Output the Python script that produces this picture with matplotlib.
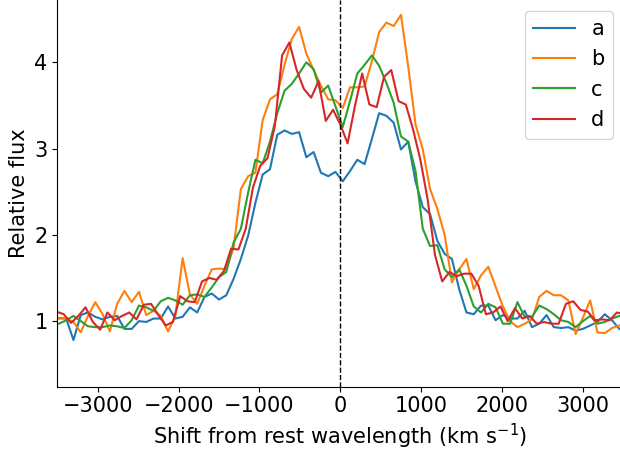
import numpy as np
import matplotlib
matplotlib.use("Agg")
import matplotlib.pyplot as plt

# velocity grids (km/s): a, b, c share one pixel grid, d is offset by 30 km/s
vel_abc = np.arange(-3570, 3541, 90)
vel_d = np.arange(-3600, 3511, 90)

flux_a = [1.05, 1.035, 1.03, 0.78, 1.07, 1.10, 1.05, 1.02, 1.05, 1.06,
          0.91, 0.91, 1.00, 0.99, 1.03, 1.03, 1.17, 1.03, 1.05, 1.16,
          1.10, 1.28, 1.32, 1.25, 1.30, 1.49, 1.72, 1.99, 2.37, 2.70,
          2.76, 3.16, 3.21, 3.17, 3.19, 2.90, 2.96, 2.72, 2.68, 2.73,
          2.62, 2.74, 2.87, 2.82, 3.11, 3.41, 3.38, 3.30, 2.99, 3.08,
          2.62, 2.32, 2.24, 1.93, 1.78, 1.72, 1.37, 1.10, 1.08, 1.18,
          1.18, 1.01, 1.07, 1.03, 1.03, 1.12, 0.93, 0.97, 1.07, 0.93,
          0.92, 0.93, 0.89, 0.91, 0.95, 0.99, 1.08, 1.01, 0.91, 0.87]

flux_b = [1.03, 1.03, 1.03, 0.99, 0.87, 1.06, 1.22, 1.08, 0.88, 1.20,
          1.35, 1.22, 1.34, 1.07, 1.12, 1.06, 0.88, 1.06, 1.73, 1.31,
          1.20, 1.41, 1.60, 1.61, 1.60, 1.85, 2.53, 2.68, 2.72, 3.33,
          3.57, 3.63, 3.97, 4.27, 4.41, 4.10, 3.91, 3.73, 3.57, 3.56,
          3.47, 3.71, 3.71, 3.72, 4.01, 4.35, 4.46, 4.42, 4.55, 3.95,
          3.28, 2.99, 2.53, 2.30, 2.00, 1.45, 1.60, 1.72, 1.37, 1.53,
          1.63, 1.40, 1.17, 1.00, 0.93, 0.97, 1.02, 1.28, 1.35, 1.30,
          1.30, 1.24, 0.85, 1.04, 1.24, 0.87, 0.86, 0.92, 0.95, 0.96]

flux_c = [0.96, 0.97, 1.01, 1.06, 1.00, 0.94, 0.93, 0.93, 0.95, 0.94,
          0.92, 1.01, 1.18, 1.16, 1.12, 1.23, 1.27, 1.24, 1.19, 1.30,
          1.31, 1.28, 1.39, 1.51, 1.57, 1.91, 2.07, 2.49, 2.87, 2.83,
          3.08, 3.41, 3.67, 3.75, 3.87, 4.00, 3.92, 3.65, 3.73, 3.49,
          3.25, 3.55, 3.87, 3.97, 4.08, 3.96, 3.76, 3.53, 3.14, 3.08,
          2.74, 2.07, 1.87, 1.88, 1.60, 1.51, 1.60, 1.41, 1.17, 1.10,
          1.20, 1.16, 0.97, 0.97, 1.22, 1.05, 1.05, 1.18, 1.14, 1.08,
          1.01, 0.99, 0.93, 1.00, 1.06, 0.97, 0.99, 1.03, 1.06, 1.07]

flux_d = [1.10, 1.11, 1.08, 0.98, 1.06, 1.16, 0.99, 0.90, 1.10, 1.01,
          1.06, 1.10, 1.02, 1.19, 1.20, 1.07, 0.95, 0.99, 1.29, 1.23,
          1.22, 1.46, 1.50, 1.48, 1.58, 1.84, 1.83, 2.07, 2.55, 2.80,
          2.89, 3.26, 4.08, 4.23, 3.91, 3.69, 3.59, 3.78, 3.32, 3.45,
          3.28, 3.06, 3.49, 3.87, 3.51, 3.48, 3.83, 3.91, 3.55, 3.51,
          3.22, 2.87, 2.41, 1.77, 1.46, 1.57, 1.52, 1.55, 1.55, 1.41,
          1.08, 1.10, 1.17, 1.00, 1.15, 1.03, 1.06, 0.97, 0.99, 0.97,
          0.97, 1.20, 1.23, 1.13, 1.11, 1.01, 1.02, 1.01, 1.10, 1.08]

plt.rcParams["font.size"] = 15

fig = plt.figure(figsize=(6.2, 4.51), dpi=100)
ax = fig.add_axes([0.0924, 0.1426, 0.913, 0.857])

ax.plot(vel_abc, flux_a, label="a")
ax.plot(vel_abc, flux_b, label="b")
ax.plot(vel_abc, flux_c, label="c")
ax.plot(vel_d, flux_d, label="d")
ax.axvline(0, color="k", linestyle="--", linewidth=1)

ax.set_xlim(-3500, 3500)
ax.set_ylim(0.24, 4.72)
ax.set_xticks([-3000, -2000, -1000, 0, 1000, 2000, 3000])
ax.set_yticks([1, 2, 3, 4])
ax.set_xlabel(r"Shift from rest wavelength (km s$^{-1}$)")
ax.set_ylabel("Relative flux")
ax.spines["top"].set_visible(False)
ax.spines["right"].set_visible(False)
ax.legend(loc="upper right")

fig.savefig("out.png", dpi=100)
